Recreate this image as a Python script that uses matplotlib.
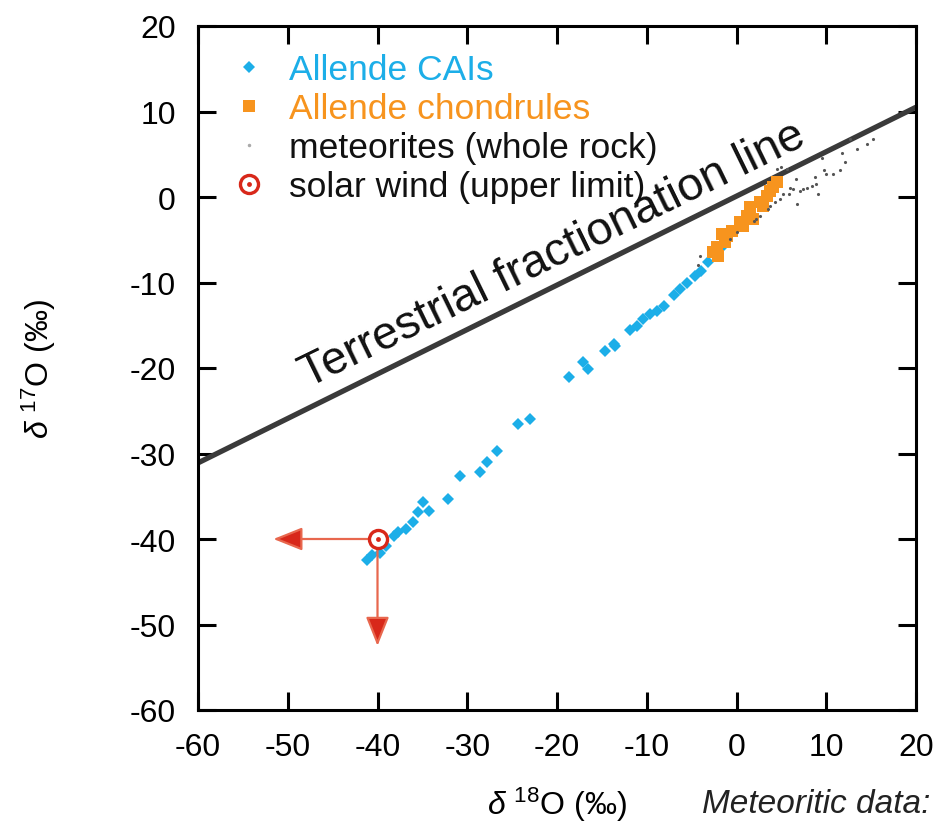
import matplotlib
matplotlib.use("Agg")
import matplotlib.pyplot as plt
from matplotlib.lines import Line2D

plt.rcParams['font.family'] = ['Liberation Sans', 'DejaVu Sans']
plt.rcParams['mathtext.fontset'] = 'custom'
plt.rcParams['mathtext.rm'] = 'Liberation Sans'
plt.rcParams['mathtext.it'] = 'Liberation Sans:italic'
plt.rcParams['axes.unicode_minus'] = False

# Allende CAIs (delta 18O, delta 17O)
cai_x = [-41.2, -40.6, -39.7, -39.0, -38.2, -37.7, -36.8, -36.0, -35.5, -34.9,
         -34.3, -32.1, -30.8, -28.6, -27.8, -26.7, -24.3, -23.0, -18.7, -17.1,
         -16.5, -14.7, -13.7, -13.5, -11.9, -11.1, -10.4, -9.6, -8.9, -8.1,
         -7.0, -6.3, -5.5, -4.6, -3.9, -3.2, -2.4, -1.6]
cai_y = [-42.5, -41.9, -41.6, -40.8, -39.6, -39.2, -38.8, -38.0, -36.9, -35.7,
         -36.7, -35.3, -32.6, -32.2, -31.0, -29.7, -26.5, -26.0, -21.1, -19.3,
         -20.1, -18.0, -17.2, -17.4, -15.6, -15.1, -14.3, -13.7, -13.3, -12.7,
         -11.5, -10.8, -10.0, -9.2, -8.6, -7.6, -6.6, -5.8]

# Allende chondrules
chon_x = [-2.58, -1.09, -0.54, 0.39, 1.13, 1.50, 2.62, 3.36, 4.10, 4.48,
          3.73, 2.99, 1.87, 0.76, -1.28, -1.65, -2.03, -2.21]
chon_y = [-6.47, -4.52, -3.94, -2.96, -2.18, -1.21, -0.62, 0.16, 1.13, 1.72,
          0.74, -1.02, -2.57, -3.36, -5.30, -4.33, -6.87, -5.88]

# meteorites (whole rock)
met_x = [14.5, 15.2, 11.7, 12.1, 10.8, 11.5, 9.7, 10.0, 8.7, 8.9, 8.4, 7.8,
         7.4, 7.1, 6.3, 6.0, 5.8, 5.2, 4.8, 4.3, 3.7, 3.5, 2.6, 2.2, 1.9, 6.7,
         9.1, 5.6, 6.6, 5.0, 0.0, -0.7, -4.1, -4.3, 4.5, 12.6, 13.4, 9.5]
met_y = [6.2, 6.8, 5.2, 4.1, 2.7, 3.1, 3.1, 2.7, 2.3, 1.5, 1.3, 1.1,
         0.9, 0.7, 0.9, 1.1, 0.4, 0.4, -0.2, -0.6, -1.0, -1.4, -2.2, -2.6, -2.8, -0.8,
         0.4, 3.3, 2.1, 3.5, -4.1, -4.9, -6.9, -8.0, 3.3, 6.8, 5.6, 4.6]

# solar wind (upper limit) and arrow tips
sw_x = -40
sw_y = -40
sw_left_tip = -51.6
sw_down_tip = -52.5

# terrestrial fractionation line
tfl_x = [-60, 20]
tfl_y = [-31.1, 10.5]

blue = '#1CAEE8'
orange = '#F7941E'
red = '#D8281A'

fig = plt.figure(figsize=(9.38, 8.28), dpi=100)
ax = fig.add_axes([198 / 938, 1 - 711 / 828, 718 / 938, 684 / 828])

ax.plot(tfl_x, tfl_y, color='#3a3a3a', lw=3.8, solid_capstyle='butt', zorder=2)
ax.text(-47.7, -22.2, 'Terrestrial fractionation line', fontsize=33.5,
        rotation=26, rotation_mode='anchor', ha='left', va='baseline', color='#111111')

ax.plot(cai_x, cai_y, 'D', ms=6, color=blue, mew=0, zorder=3)
ax.plot(chon_x, chon_y, 's', ms=8, color=orange, mew=0, zorder=4)
ax.plot(met_x, met_y, '.', ms=2.5, color='#555555', zorder=5)

# upper limit arrows
ax.annotate('', xy=(sw_left_tip, sw_y), xytext=(sw_x - 1.1, sw_y),
            arrowprops=dict(arrowstyle='-|>,head_length=0.9,head_width=0.36',
                            mutation_scale=20, lw=1.6, fc=red, ec='#E8674E',
                            shrinkA=0, shrinkB=0), zorder=6)
ax.annotate('', xy=(sw_x, sw_down_tip), xytext=(sw_x, sw_y - 1.2),
            arrowprops=dict(arrowstyle='-|>,head_length=0.9,head_width=0.36',
                            mutation_scale=20, lw=1.6, fc=red, ec='#E8674E',
                            shrinkA=0, shrinkB=0), zorder=6)
ax.plot(sw_x, sw_y, 'o', ms=13, mfc='white', mec=red, mew=2.4, zorder=7)
ax.plot(sw_x, sw_y, 'o', ms=3.5, color=red, mew=0, zorder=8)

ax.set_xlim(-60, 20)
ax.set_ylim(-60, 20)
ax.set_xticks(range(-60, 21, 10))
ax.set_yticks(range(-60, 21, 10))
ax.tick_params(direction='in', length=13, width=2.2, top=True, right=True,
               labelsize=23, pad=16)
for s in ax.spines.values():
    s.set_linewidth(2.2)

ax.set_xlabel(r'$\delta$ $^{\rm 18}$O (‰)', fontsize=23, labelpad=16)
ax.set_ylabel(r'$\delta$ $^{\rm 17}$O (‰)', fontsize=23)
ax.yaxis.set_label_coords(-0.195, 0.5)

fig.text(930 / 938, 1 - 805 / 828, 'Meteoritic data:', fontsize=24, style='italic',
         ha='right', va='center', color='#222222')

# legend
handles = [
    Line2D([], [], marker='D', ls='', color=blue, ms=6, mew=0),
    Line2D([], [], marker='s', ls='', color=orange, ms=8, mew=0),
    Line2D([], [], marker='.', ls='', color='#aaaaaa', ms=3),
    (Line2D([], [], marker='o', ls='', ms=13, mfc='white', mec=red, mew=2.4),
     Line2D([], [], marker='o', ls='', ms=3.5, color=red, mew=0)),
]
labels = ['Allende CAIs', 'Allende chondrules', 'meteorites (whole rock)',
          'solar wind (upper limit)']
ax.legend(handles, labels, loc='upper left', bbox_to_anchor=(231 / 938, 1 - 54 / 828),
          bbox_transform=fig.transFigure, frameon=False, fontsize=25.5,
          labelcolor=[blue, orange, '#111111', '#111111'],
          handlelength=1.0, handletextpad=0.65, labelspacing=0.17,
          borderpad=0, borderaxespad=0)

fig.savefig('out.png', dpi=100)
